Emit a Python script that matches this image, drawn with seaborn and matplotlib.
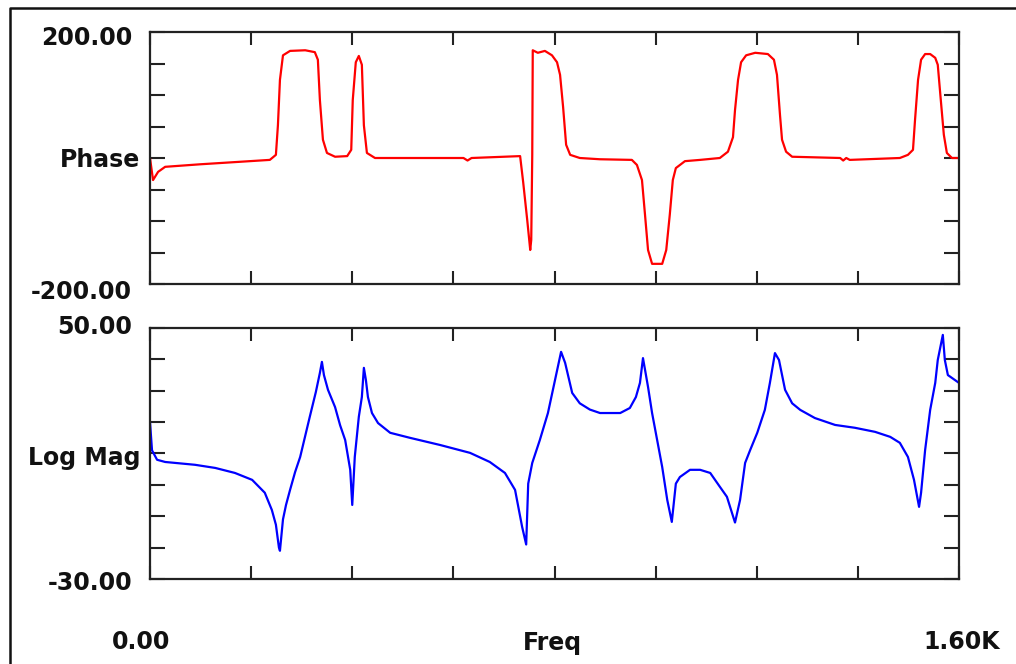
import numpy as np
import seaborn as sn
import matplotlib.pyplot as plt
from matplotlib.lines import Line2D

# phase response (deg)
phase_freq = [0, 6, 16, 30, 99, 178, 237, 249, 253, 257, 263, 277, 307, 326, 332, 336,
              342, 350, 366, 390, 398, 401, 407, 413, 419, 423, 429, 445, 620, 628, 636,
              732, 738, 746, 752, 754, 756, 757, 767, 781, 795, 805, 811, 817, 823, 831,
              850, 890, 953, 963, 973, 979, 985, 993, 1013, 1021, 1028, 1034, 1040, 1058,
              1088, 1127, 1143, 1153, 1157, 1163, 1169, 1179, 1197, 1222, 1234, 1240,
              1246, 1250, 1258, 1270, 1365, 1371, 1377, 1384, 1483, 1499, 1509, 1513,
              1519, 1525, 1533, 1543, 1553, 1558, 1564, 1570, 1576, 1586, 1600]
phase_deg = [0, -35, -22, -14, -10, -6, -3, 5, 52, 124, 163, 170, 171, 168, 156, 92,
             29, 8, 2, 3, 13, 92, 152, 162, 148, 52, 8, 0, 0, -4, 0,
             3, -38, -98, -146, -130, 5, 171, 167, 170, 163, 152, 132, 81, 21, 5,
             0, -2, -3, -11, -35, -90, -146, -168, -168, -146, -90, -35, -16, -5,
             -3, 0, 10, 33, 76, 124, 152, 163, 167, 165, 156, 132,
             68, 29, 10, 2, 0, -4, 0, -3, 0, 5, 13, 60,
             124, 156, 165, 165, 159, 148, 92, 37, 8, 0, 0]

# log magnitude (dB)
mag_freq = [0, 4, 14, 30, 89, 129, 168, 202, 227, 241, 249, 255, 257, 263, 269, 277,
            287, 297, 316, 328, 336, 340, 344, 352, 366, 376, 386, 396, 400, 405, 409,
            413, 419, 423, 427, 431, 439, 451, 475, 514, 574, 633, 672, 702, 722, 736,
            744, 748, 756, 771, 787, 801, 813, 821, 835, 850, 870, 890, 930, 949, 961,
            969, 975, 985, 993, 1003, 1013, 1023, 1032, 1040, 1048, 1068, 1088, 1108,
            1127, 1141, 1157, 1167, 1177, 1187, 1201, 1216, 1226, 1236, 1244, 1256,
            1270, 1286, 1315, 1355, 1394, 1434, 1464, 1483, 1499, 1511, 1521, 1525,
            1533, 1543, 1553, 1558, 1568, 1572, 1578, 1600]
mag_db = [20, 11, 8, 7.3, 6.4, 5.4, 3.8, 1.6, -2.5, -8, -12.7, -20, -21, -11, -6.4, -1.6,
          4.1, 8.9, 21.7, 29.6, 35.7, 39.2, 35, 30.3, 24.8, 19, 14.3, 4.8, -6.4, 8.9, 15.3,
          21.7, 28, 37.3, 33.4, 28, 22.9, 19.7, 16.6, 15, 12.7, 10.2, 7.3, 3.8, -1.6, -13.4,
          -19, 0.4, 7, 14.3, 22.9, 33.4, 42.4, 38.9, 29.3, 26, 24, 22.9, 22.9, 24.5, 28,
          32.5, 40.4, 31.2, 22.9, 14.3, 5.7, -4.8, -11.8, 0.4, 2.5, 4.8, 4.8, 3.8,
          -0.6, -3.8, -12, -4.8, 7, 11.1, 16.6, 23.9, 32.5, 42, 39.8, 30.3,
          26, 23.9, 21.3, 19.1, 18.2, 16.9, 15.3, 13.4, 8.9, 1.6, -7, -2.5,
          11.1, 23.9, 32.5, 39.8, 47.8, 39.8, 35, 32.5]

phase_ticks = np.arange(-200, 201, 50)
mag_ticks = np.arange(-30, 51, 10)
freq_ticks = np.arange(0, 1601, 200)

sn.set_style("white")
plt.rcParams["font.family"] = ["DejaVu Sans"]

W, H = 1016, 664
fig = plt.figure(figsize=(W / 100, H / 100), dpi=100)


def px(x, y):
    return x / W, 1 - y / H


ax_p = fig.add_axes([150 / W, 1 - 284 / H, 809 / W, 252 / H])
ax_m = fig.add_axes([150 / W, 1 - 579 / H, 809 / W, 251 / H])

sn.lineplot(x=phase_freq, y=phase_deg, ax=ax_p, color="#ff0000", linewidth=1.6,
            estimator=None, sort=False)
sn.lineplot(x=mag_freq, y=mag_db, ax=ax_m, color="#0000ff", linewidth=1.6,
            estimator=None, sort=False)

for ax, yt in [(ax_p, phase_ticks), (ax_m, mag_ticks)]:
    ax.set_xlim(0, 1600)
    ax.set_ylim(yt[0], yt[-1])
    ax.set_xticks(freq_ticks)
    ax.set_yticks(yt)
    ax.set_xticklabels([])
    ax.set_yticklabels([])
    ax.set_xlabel("")
    ax.set_ylabel("")
    ax.tick_params(axis="x", direction="in", length=9.5, width=1.5, color="#222222",
                   top=True, bottom=True)
    ax.tick_params(axis="y", direction="in", length=11, width=1.5, color="#222222",
                   left=True, right=True)
    for s in ax.spines.values():
        s.set_visible(True)
        s.set_linewidth(1.6)
        s.set_color("#222222")

fs = 17
kw = dict(fontsize=fs, fontweight="bold", color="#111111")
fig.text(*px(132, 38), "200.00", ha="right", va="center", **kw)
fig.text(*px(140, 160), "Phase", ha="right", va="center", **kw)
fig.text(*px(132, 292), "-200.00", ha="right", va="center", **kw)
fig.text(*px(132, 327), "50.00", ha="right", va="center", **kw)
fig.text(*px(140, 458), "Log Mag", ha="right", va="center", **kw)
fig.text(*px(132, 583), "-30.00", ha="right", va="center", **kw)
fig.text(*px(141, 642), "0.00", ha="center", va="center", **kw)
fig.text(*px(552, 643), "Freq", ha="center", va="center", **kw)
fig.text(*px(1000, 642), "1.60K", ha="right", va="center", **kw)

# outer frame (left and top edges)
fig.add_artist(Line2D([10 / W, 10 / W, 1], [0, 1 - 8 / H, 1 - 8 / H],
                      transform=fig.transFigure, color="#111111", linewidth=1.8))

fig.savefig("out.png", dpi=100)
